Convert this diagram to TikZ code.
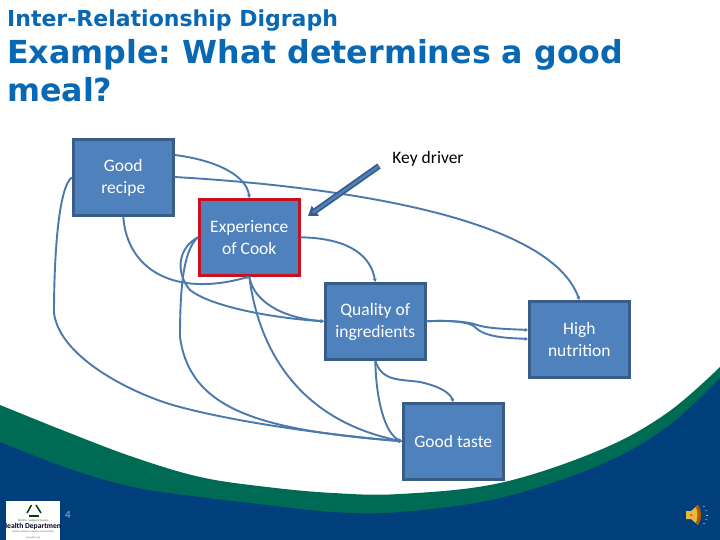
\documentclass[tikz,border=0pt]{standalone}
\usepackage{fontspec}
\setmainfont{Carlito}
\newfontfamily\titlefont{DejaVu Sans}
\usetikzlibrary{arrows.meta,positioning}
\frenchspacing
\newcommand{\boxst}{\rule[-2pt]{0pt}{16pt}}
\definecolor{boxfill}{HTML}{4F81BD}
\definecolor{boxedge}{HTML}{385D8A}
\definecolor{linkc}{HTML}{4A79AE}
\definecolor{bandgreen}{HTML}{006B54}
\definecolor{bandblue}{HTML}{003F7C}
\definecolor{titleblue}{HTML}{0868B4}
\definecolor{cookred}{HTML}{C8101E}
\definecolor{gold}{HTML}{E8B93C}
\tikzset{
  box/.style={draw=boxedge,fill=boxfill,line width=2.6pt,minimum width=100pt,minimum height=76pt,inner sep=0pt,text=white,align=center,font=\fontsize{17.5}{22}\selectfont,anchor=north west},
  link/.style={draw=linkc,line width=1.9pt,-{Stealth[length=3.5pt,width=4pt]}},
  titletext/.style={anchor=base west,inner sep=0pt,text=titleblue}
}
\begin{document}
\begin{tikzpicture}[x=1pt,y=-1pt]
\useasboundingbox (0,0) rectangle (720,540);
% background
\fill[white] (0,0) rectangle (720,540);
\fill[bandgreen] plot[smooth,tension=0.6] coordinates {(0,405) (67,432) (133,457) (200,477) (267,487) (333,493) (400,494) (500,483) (600,450) (667,413) (720,367)} -- (720,540) -- (0,540) -- cycle;
\fill[bandblue] plot[smooth,tension=0.6] coordinates {(0,442) (67,468) (133,487) (200,497) (267,505) (333,512) (400,512) (500,498) (600,465) (667,427) (720,378)} -- (720,540) -- (0,540) -- cycle;
% titles
\node[titletext,font=\titlefont\bfseries\fontsize{22}{26}\selectfont] (sub) at (7,26.5) {Inter-Relationship Digraph};
\node[titletext,font=\titlefont\bfseries\fontsize{31.7}{36}\selectfont] (t1) at (7,63.5) {Example: What determines a good};
\node[titletext,font=\titlefont\bfseries\fontsize{31.7}{36}\selectfont] (t2) at (7,101.5) {meal?};
% boxes
\node[box] (recipe) at (72,138) {\boxst Good\\\boxst recipe};
\node[box,draw=cookred] (cook) at (198,198) {\boxst Experience\\\boxst of Cook};
\node[box] (quality) at (324,282) {\boxst Quality of\\\boxst ingredients};
\node[box] (nutrition) at (528,300) {\boxst High\\\boxst nutrition};
\node[box] (taste) at (402,402) {\boxst Good taste};
% connectors
\path[link] (recipe.east|-0,155) .. controls (215,160) and (247,175) .. (cook.north);
\path[link] (recipe.east|-0,177) .. controls (330,186) and (550,215) .. (nutrition.north);
\path[link] (recipe.south) .. controls (127,270) and (175,298) .. (cook.south);
\path[link] (recipe.west) .. controls (58,187) and (54,260) .. (54,313) .. controls (60,360) and (140,397) .. (180,407) .. controls (240,423) and (330,435) .. (taste.west);
\path[link] (cook.west) .. controls (183,250) and (180,290) .. (180,337) .. controls (190,410) and (260,430) .. (taste.west);
\path[link] (cook.west) .. controls (178,248) and (175,272) .. (190,290) .. controls (210,306) and (270,318) .. (quality.west);
\path[link] (cook.south) .. controls (253,300) and (280,318) .. (quality.west);
\path[link] (cook.south) .. controls (258,345) and (295,420) .. (taste.west);
\path[link] (cook.east) .. controls (340,238) and (370,250) .. (quality.north);
\path[link] (quality.east) .. controls (450,320) and (470,322) .. (477,325) .. controls (490,329) and (510,329) .. (nutrition.west|-0,330);
\path[link] (quality.east) .. controls (450,320) and (470,322) .. (475,327) .. controls (485,338) and (510,338) .. (nutrition.west|-0,339);
\path[link] (quality.south) .. controls (382,382) and (400,379) .. (420,382) .. controls (438,386) and (450,392) .. (taste.north);
\path[link] (quality.south) .. controls (376,400) and (385,435) .. (taste.west);
% key driver
\node[text=black,inner sep=0pt,font=\fontsize{17.5}{20}\selectfont] (key) at (428,159) {Key driver};
\coordinate (kstart) at (379,166);
\coordinate (kend) at (308,216);
\draw[boxedge,line width=6pt,-{Triangle[length=9pt,width=12pt]}] (kstart) -- (kend);
\draw[boxfill,line width=2.4pt,shorten >=6pt,shorten <=1pt] (kstart) -- (kend);
% footer
\fill[white] (6,501) rectangle (60,540);
\begin{scope}
\clip (6,501) rectangle (60,540);
\draw[black!75!green,line width=1.5pt] (31.5,505) -- (27,513);
\draw[black!75!green,line width=1.5pt] (36,505) -- (41,513);
\draw[black!75!green,line width=1.5pt] (29,516) -- (39,516);
\node[inner sep=0pt,text=black!70,font=\fontsize{2.8}{3}\selectfont] (w) at (33,520.5) {Wichita - Sedgwick County};
\node[inner sep=0pt,text=black!85!blue,font=\bfseries\fontsize{7.6}{8}\selectfont] (hd) at (33,526.5) {Health Department};
\node[inner sep=0pt,text=black!60,font=\fontsize{2.6}{3}\selectfont] (h2) at (33,532) {Healthy People in Healthy Communities};
\node[inner sep=0pt,text=black!60,font=\fontsize{2.6}{3}\selectfont] (h3) at (33,537.5) {www.site.org};
\end{scope}
\node[inner sep=0pt,text=boxfill!60!white,font=\fontsize{11}{12}\selectfont] (pg) at (68,515) {4};
% speaker
\fill[gold] (686,511) -- (691,511) -- (698,505) -- (700,515) -- (698,525) -- (691,519) -- (686,519) -- cycle;
\fill[orange!70!black] (698,505) .. controls (702,510) and (702,520) .. (698,525) -- (696,523) .. controls (698,518) and (698,512) .. (696,507) -- cycle;
\fill[orange!60!black] (691,515) circle (1pt);
\foreach \a/\b/\c/\d in {703/507/705/506,705/511/707/510.5,706/515/708/515,705/519/707/519.5,703/523/705/524}{\draw[white!70!blue,line width=0.5pt] (\a,\b) -- (\c,\d);}
\end{tikzpicture}
\end{document}
